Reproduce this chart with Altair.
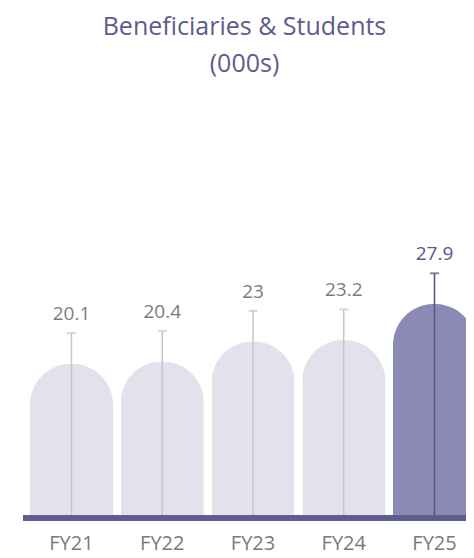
import altair as alt
import pandas as pd

years = ["FY21", "FY22", "FY23", "FY24", "FY25"]
values = [20.1, 20.4, 23.0, 23.2, 27.9]
labels = ["20.1", "20.4", "23", "23.2", "27.9"]
highlight = "FY25"

df = pd.DataFrame({"year": years, "value": values, "label": labels})

LIGHT = "#e3e2ec"
DARK = "#8b8ab4"
BASE = "#5e5d8d"
WHISK_LIGHT = "#c6c6c9"
WHISK_DARK = "#55547f"
TXT_GRAY = "#7d7d7d"
TXT_HI = "#55598f"
FONT = "Open Sans"

is_hi = alt.datum.year == highlight

x = alt.X(
    "year:N",
    sort=years,
    scale=alt.Scale(range=[0, 453], paddingInner=0.0854, paddingOuter=0.0385, align=1),
    axis=alt.Axis(
        title=None, ticks=False, domain=False, labelAngle=0,
        labelFontSize=20, labelColor="#7a7a7a", labelFont=FONT, labelPadding=15,
    ),
)
yscale = alt.Scale(domain=[0, 57.1], nice=False, zero=True)

base = alt.Chart(df).transform_calculate(top="datum.value + 4.0")

bars = base.mark_bar(cornerRadiusTopLeft=41, cornerRadiusTopRight=41).encode(
    x=x,
    y=alt.Y("value:Q", scale=yscale, axis=None),
    color=alt.condition(is_hi, alt.value(DARK), alt.value(LIGHT)),
)

whiskers = base.mark_rule(strokeWidth=1.5).encode(
    x=x,
    y=alt.Y("top:Q", scale=yscale, axis=None),
    y2=alt.datum(0),
    color=alt.condition(is_hi, alt.value(WHISK_DARK), alt.value(WHISK_LIGHT)),
)

caps = base.mark_tick(orient="horizontal", size=9, thickness=2).encode(
    x=x,
    y=alt.Y("top:Q", scale=yscale, axis=None),
    color=alt.condition(is_hi, alt.value(WHISK_DARK), alt.value(WHISK_LIGHT)),
)

texts = base.mark_text(dy=-19, fontSize=19, font=FONT, baseline="middle").encode(
    x=x,
    y=alt.Y("top:Q", scale=yscale, axis=None),
    text="label:N",
    color=alt.condition(is_hi, alt.value(TXT_HI), alt.value(TXT_GRAY)),
)

baseline = alt.Chart(df).mark_rule(strokeWidth=5, color=BASE).encode(
    y=alt.datum(0)
)

chart = (
    alt.layer(bars, whiskers, caps, texts, baseline)
    .properties(
        width=443,
        height=438,
        title=alt.TitleParams(
            text=["Beneficiaries & Students", "(000s)"],
            fontSize=25,
            font=FONT,
            fontWeight="normal",
            color="#5e5c8c",
            lineHeight=37,
            anchor="middle",
            offset=3,
        ),
        autosize=alt.AutoSizeParams(type="none"),
        padding={"left": 15, "right": 0, "top": 72, "bottom": 40},
    )
    .configure_view(stroke=None)
)

chart.save("out.html", embed_options={"renderer": "svg", "actions": False})
